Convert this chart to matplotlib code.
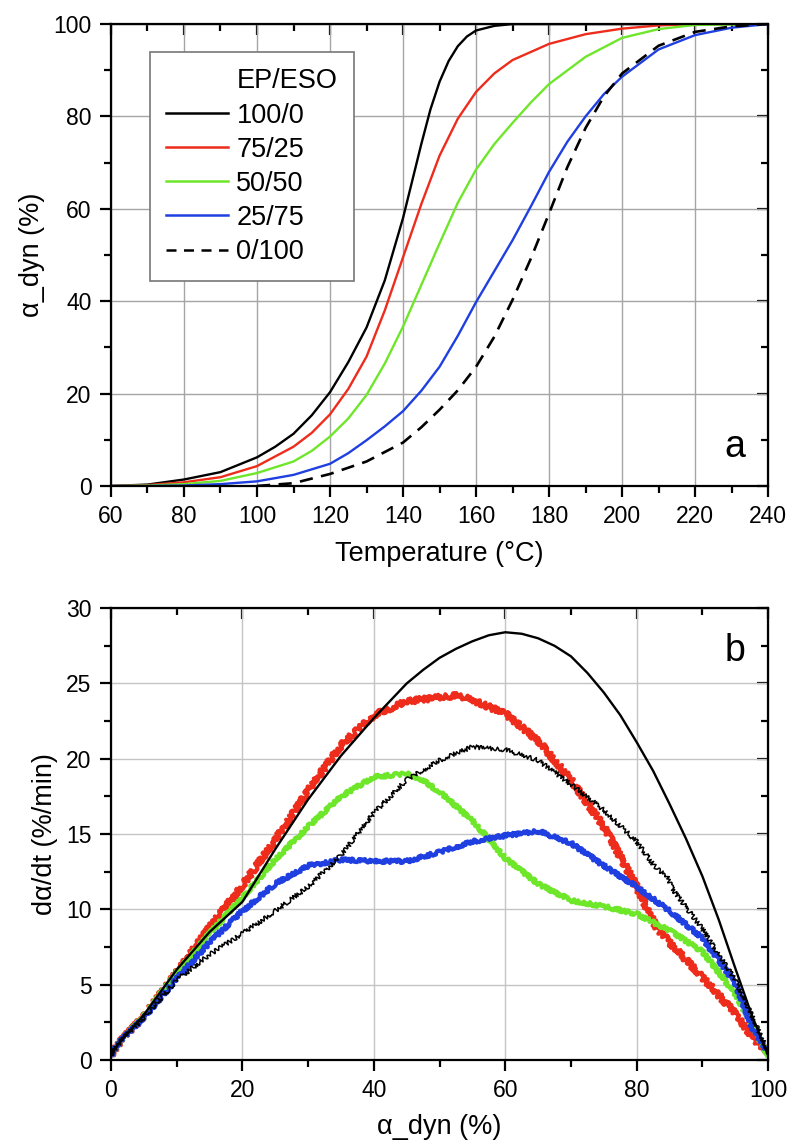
import matplotlib
matplotlib.use('Agg')
import matplotlib.pyplot as plt
from matplotlib.lines import Line2D
import numpy as np

plt.rcParams['font.family'] = ['Liberation Sans', 'DejaVu Sans']

# ---- panel a: conversion vs temperature ----
temp_100_0 = [60, 70, 80, 90, 100, 105, 110, 115, 120, 125, 130, 135, 140, 142.5, 145, 147.5, 150, 152.5, 155, 157.5, 160, 165, 170, 240]
conv_100_0 = [0, 0.3, 1.4, 3.0, 6.2, 8.5, 11.3, 15.3, 20.3, 26.8, 34.3, 44.5, 58, 66, 74, 81.5, 87.5, 92, 95.2, 97.3, 98.6, 99.6, 100, 100]

temp_75_25 = [60, 70, 80, 90, 100, 110, 115, 120, 125, 130, 135, 140, 145, 150, 155, 160, 165, 170, 180, 190, 200, 210, 220, 240]
conv_75_25 = [0, 0.2, 0.8, 1.9, 4.3, 8.5, 11.5, 15.5, 21, 28, 38, 49.5, 61, 71.5, 79.5, 85.3, 89.3, 92.2, 95.7, 97.8, 99, 99.7, 100, 100]

temp_50_50 = [60, 70, 80, 90, 100, 110, 115, 120, 125, 130, 135, 140, 145, 150, 155, 160, 165, 170, 175, 180, 190, 200, 210, 220, 240]
conv_50_50 = [0, 0.1, 0.4, 1.1, 2.8, 5.3, 7.6, 10.7, 14.6, 19.7, 26.5, 34.5, 43.5, 52.5, 61.3, 68.5, 74, 78.6, 83, 87, 92.9, 97, 98.9, 99.8, 100]

temp_25_75 = [60, 70, 80, 90, 100, 110, 120, 125, 130, 135, 140, 145, 150, 155, 160, 165, 170, 175, 180, 185, 190, 195, 200, 210, 220, 230, 240]
conv_25_75 = [0, 0, 0.1, 0.4, 1.0, 2.4, 4.8, 7.1, 9.9, 12.9, 16.2, 20.6, 25.8, 32.5, 39.8, 46.5, 53.2, 60.5, 68, 74.5, 80, 84.8, 88.6, 94.5, 97.6, 99.2, 100]

temp_0_100 = [100, 110, 120, 130, 140, 145, 150, 155, 160, 165, 170, 175, 180, 185, 190, 195, 200, 210, 220, 230, 240]
conv_0_100 = [0, 0.6, 2.6, 5.3, 9.4, 12.7, 16.5, 20.7, 25.8, 32.3, 40.3, 49.2, 59, 69, 77.5, 84.3, 89.3, 95.3, 98.3, 99.5, 100]

# ---- panel b: rate vs conversion ----
a_fit = [0, 1, 2, 5, 10, 15, 20, 25, 30, 35, 40, 45, 47.5, 50, 52.5, 55, 57.5, 60, 62.5, 65, 67.5, 70, 72.5, 75,
         77.5, 80, 82.5, 85, 87.5, 90, 92.5, 95, 97.5, 100]
r_fit = [0.3, 1.0, 1.5, 3.0, 6.0, 8.5, 10.5, 14.0, 17.3, 20.2, 22.7, 25.0, 25.9, 26.7, 27.3, 27.8, 28.2, 28.4, 28.3, 28.0, 27.5,
         26.8, 25.7, 24.4, 22.9, 21.1, 19.2, 17.0, 14.7, 12.2, 9.3, 6.1, 3.0, 0.3]

a_red = [0, 1, 2, 5, 10, 15, 20, 25, 30, 35, 40, 45, 50, 53, 55, 60, 65, 70, 75, 80, 83, 85, 90, 95, 98, 100]
r_red = [0.3, 1.0, 1.5, 2.9, 5.8, 8.8, 11.6, 14.6, 17.9, 20.9, 22.9, 23.8, 24.1, 24.2, 23.9, 23.0, 21.2, 18.6, 15.5, 11.5, 8.8, 7.8, 5.5, 3.1, 1.3, 0.5]

a_green = [0, 1, 2, 5, 10, 15, 20, 25, 30, 35, 40, 45, 47, 50, 55, 60, 65, 70, 75, 80, 85, 90, 95, 99, 100]
r_green = [0.3, 1.0, 1.5, 2.9, 5.8, 8.4, 10.8, 13.3, 15.5, 17.5, 18.8, 19.0, 18.7, 17.8, 15.9, 13.4, 11.7, 10.6, 10.2, 9.7, 8.6, 7.2, 4.4, 1.1, 0.3]

a_blue = [0, 1, 2, 5, 10, 15, 20, 25, 30, 35, 40, 45, 50, 55, 60, 65, 70, 75, 80, 85, 90, 95, 97.5, 100]
r_blue = [0.3, 1.0, 1.5, 2.8, 5.4, 7.8, 9.9, 11.7, 12.9, 13.3, 13.2, 13.2, 13.8, 14.5, 14.9, 15.2, 14.4, 12.9, 11.5, 9.9, 8.1, 5.1, 2.2, 0.5]

a_black = [0, 1, 2, 5, 10, 15, 20, 25, 30, 35, 40, 45, 50, 55, 60, 65, 70, 75, 80, 83, 84.5, 85.5, 90, 95, 98, 100]
r_black = [0.3, 1.0, 1.5, 2.8, 5.3, 7.0, 8.4, 9.9, 11.5, 13.6, 16.4, 18.6, 19.9, 20.8, 20.6, 19.9, 18.3, 16.6, 14.5, 12.7, 12.3, 11.3, 8.7, 5.3, 2.5, 0.5]

legend_labels = ['100/0', '75/25', '50/50', '25/75', '0/100']
c_red = '#ee2c1c'
c_green = '#6ee62a'
c_blue = '#1f3fe0'


def style_axes(ax, xmaj, xmin, ymaj, ymin, grid_col):
    ax.set_xticks(xmaj)
    ax.set_xticks(xmin, minor=True)
    ax.set_yticks(ymaj)
    ax.set_yticks(ymin, minor=True)
    ax.grid(True, which='major', color=grid_col, lw=1.0)
    ax.set_axisbelow(True)
    for s in ax.spines.values():
        s.set_linewidth(1.6)
    ax.tick_params(which='major', direction='out', length=8, width=1.6, labelsize=16.5, pad=6)
    ax.tick_params(which='minor', direction='out', length=5, width=1.6)
    top = ax.secondary_xaxis('top')
    top.set_xticks(xmaj)
    top.set_xticks(xmin, minor=True)
    top.tick_params(which='major', direction='in', length=8, width=1.6, labeltop=False)
    top.tick_params(which='minor', direction='in', length=5, width=1.6)
    right = ax.secondary_yaxis('right')
    right.set_yticks(ymaj)
    right.set_yticks(ymin, minor=True)
    right.tick_params(which='major', direction='in', length=8, width=1.6, labelright=False)
    right.tick_params(which='minor', direction='in', length=5, width=1.6)


fig = plt.figure(figsize=(7.87, 11.44), dpi=100)

# panel a
ax1 = fig.add_axes([0.141, 0.5752, 0.835, 0.4038])
ax1.plot(temp_100_0, conv_100_0, color='black', lw=1.7)
ax1.plot(temp_75_25, conv_75_25, color=c_red, lw=1.7)
ax1.plot(temp_50_50, conv_50_50, color=c_green, lw=1.7)
ax1.plot(temp_25_75, conv_25_75, color=c_blue, lw=1.7)
ax1.plot(temp_0_100, conv_0_100, color='black', lw=1.9, dashes=(5, 3.2))
ax1.set_xlim(60, 240)
ax1.set_ylim(0, 100)
style_axes(ax1, np.arange(60, 241, 20), np.arange(70, 240, 20),
           np.arange(0, 101, 20), np.arange(10, 100, 20), '#a5a5a5')
ax1.set_xlabel('Temperature (°C)', fontsize=19.5, labelpad=9)
ax1.set_ylabel('α_dyn (%)', fontsize=19.5, labelpad=6)
ax1.text(0.965, 0.085, 'a', transform=ax1.transAxes, fontsize=27, ha='right', va='center')

handles = [Line2D([], [], color='none')]
handles += [Line2D([], [], color=c, lw=1.8) for c in ['black', c_red, c_green, c_blue]]
handles += [Line2D([], [], color='black', lw=1.8, dashes=(4, 3))]
leg = ax1.legend(handles, ['EP/ESO'] + legend_labels, loc='upper left',
                 bbox_to_anchor=(0.059, 0.939), borderaxespad=0, fontsize=19.5,
                 handlelength=2.3, handletextpad=0.3, labelspacing=0.3,
                 fancybox=False, framealpha=1, edgecolor='#777777', borderpad=0.6)
leg.get_frame().set_linewidth(1.2)

# panel b
ax2 = fig.add_axes([0.141, 0.0734, 0.835, 0.395])
ax2.plot(a_fit, r_fit, color='black', lw=1.7, zorder=5)
for xs, ys, c, sc in [(a_red, r_red, c_red, 2.8), (a_green, r_green, c_green, 1.8), (a_blue, r_blue, c_blue, 1.8)]:
    ln, = ax2.plot(xs, ys, color=c, lw=3.0)
    ln.set_sketch_params(scale=sc, length=3, randomness=4)
ln, = ax2.plot(a_black, r_black, color='black', lw=1.1, zorder=4)
ln.set_sketch_params(scale=2.2, length=3, randomness=4)
ax2.set_xlim(0, 100)
ax2.set_ylim(0, 30)
style_axes(ax2, np.arange(0, 101, 20), np.arange(10, 100, 20),
           np.arange(0, 31, 5), np.arange(2.5, 30, 5), '#c4c4c4')
ax2.set_xlabel('α_dyn (%)', fontsize=19.5, labelpad=8)
ax2.set_ylabel('dα/dt (%/min)', fontsize=19.5, labelpad=6)
ax2.text(0.965, 0.905, 'b', transform=ax2.transAxes, fontsize=27, ha='right', va='center')

fig.savefig('out.png', dpi=100)
